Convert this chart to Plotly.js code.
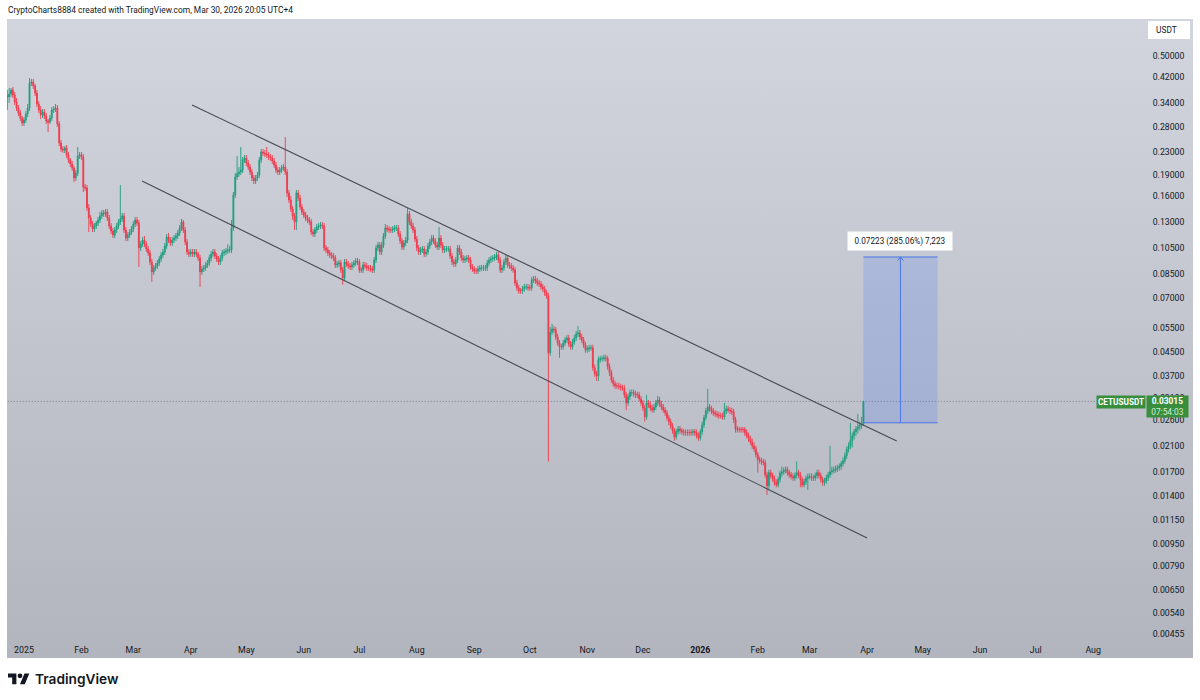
<!DOCTYPE html>
<html><head><meta charset="utf-8">
<script src="https://cdn.plot.ly/plotly-3.0.1.min.js"></script>
<style>
html,body{margin:0;padding:0;background:#fff;width:1200px;height:700px;overflow:hidden}
#panel{position:absolute;left:7px;top:19px;width:1186px;height:639px;background:linear-gradient(180deg,#d2d5dd 0%,#b2b5be 100%)}
#chart{position:absolute;left:0;top:0;width:1200px;height:700px}
#logo{position:absolute;left:8px;top:670.6px}
</style></head><body>
<div id="panel"></div>
<div id="chart"></div>
<svg id="logo" width="21.6" height="16.8" viewBox="0 0 36 28"><path fill="#131722" d="M14 22H7V11H0V4h14v18zM28 22h-8l7.5-18h8L28 22z"/><circle fill="#131722" cx="20" cy="8" r="4"/></svg>
<script>
const firstDay='2024-12-23';
const firstOpen=.3612;
const closes=[
.3583,.3671,.3793,.3641,.3440,.3276,.3145,.3020,.2900,.2972,
.3120,.3276,.4015,.4048,.3918,.3701,.3385,.3223,.3095,.3171,
.3070,.2948,.2924,.3020,.3223,.3250,.3276,.2877,.2465,.2347,
.2328,.2367,.2236,.2147,.2078,.2012,.1855,.1931,.2218,.2236,
.2200,.1724,.1710,.1453,.1340,.1276,.1225,.1255,.1286,.1318,
.1362,.1395,.1384,.1407,.1340,.1255,.1205,.1167,.1215,.1255,
.1297,.1329,.1362,.1215,.1138,.1167,.1195,.1225,.1276,.1318,
.1286,.1050,.1084,.1120,.1084,.1041,.1008,.0937,.0864,.0892,
.0907,.0929,.0960,.0992,.1016,.1067,.1148,.1120,.1093,.1120,
.1138,.1157,.1186,.1235,.1297,.1215,.1102,.1016,.1000,.1016,
.1000,.1016,.1000,.0968,.0864,.0885,.0892,.0914,.0929,.0968,
.1000,.1016,.0984,.0960,.0937,.0968,.1008,.1016,.1024,.1033,
.1033,.1235,.1615,.1870,.1916,.1947,.1979,.2147,.2182,.2095,
.2028,.1947,.1855,.1810,.1855,.1900,.2147,.2291,.2272,.2254,
.2236,.2200,.2182,.2129,.2061,.1979,.1947,.1979,.2012,.2028,
.1947,.1642,.1551,.1441,.1362,.1297,.1642,.1576,.1465,.1407,
.1373,.1340,.1318,.1297,.1195,.1176,.1215,.1245,.1255,.1265,
.1255,.1050,.1033,.1008,.0992,.0984,.0968,.0914,.0922,.0929,
.0878,.0823,.0937,.0922,.0907,.0900,.0914,.0929,.0944,.0937,
.0878,.0878,.0914,.0907,.0892,.0892,.0885,.0878,.0952,.1050,
.1075,.1016,.1075,.1157,.1235,.1225,.1215,.1215,.1225,.1235,
.1235,.1176,.1111,.1058,.1093,.1120,.1384,.1297,.1255,.1215,
.1129,.1050,.1016,.1033,.1041,.1000,.1016,.1067,.1102,.1138,
.1111,.1075,.1058,.1138,.1075,.1033,.1041,.1041,.1041,.0984,
.0937,.0922,.0952,.1050,.1016,.0968,.0952,.0960,.0968,.0952,
.0900,.0885,.0871,.0871,.0885,.0892,.0892,.0892,.0892,.0929,
.0952,.0960,.0968,.0976,.0992,.0952,.0878,.0892,.0937,.0968,
.0914,.0907,.0892,.0878,.0790,.0759,.0741,.0741,.0753,.0765,
.0765,.0759,.0759,.0810,.0816,.0803,.0790,.0784,.0765,.0753,
.0729,.0711,.0448,.0530,.0543,.0539,.0509,.0485,.0470,.0470,
.0485,.0497,.0505,.0481,.0470,.0489,.0505,.0522,.0526,.0509,
.0497,.0478,.0459,.0462,.0466,.0466,.0397,.0378,.0371,.0423,
.0427,.0427,.0430,.0427,.0400,.0381,.0359,.0348,.0342,.0342,
.0340,.0337,.0337,.0318,.0298,.0313,.0324,.0324,.0321,.0318,
.0318,.0308,.0298,.0286,.0266,.0298,.0293,.0286,.0281,.0288,
.0298,.0305,.0295,.0288,.0281,.0275,.0264,.0256,.0247,.0238,
.0226,.0236,.0241,.0238,.0236,.0234,.0234,.0234,.0234,.0234,
.0236,.0234,.0228,.0224,.0236,.0249,.0264,.0279,.0288,.0284,
.0279,.0275,.0272,.0270,.0268,.0268,.0266,.0279,.0284,.0281,
.0279,.0277,.0260,.0241,.0240,.0240,.0240,.0240,.0234,.0228,
.0223,.0217,.0210,.0205,.0196,.0188,.0186,.0185,.0183,.0166,
.0152,.0169,.0165,.0161,.0156,.0153,.0160,.0168,.0170,.01717,
.0173,.0169,.0166,.01635,.0162,.0165,.0169,.0166,.0160,.0153,
.0157,.0161,.01635,.01635,.0162,.0162,.0165,.0169,.0165,.0160,
.0156,.0158,.0162,.0166,.0170,.01717,.0173,.01745,.0176,.01775,
.0182,.0186,.0194,.0204,.0210,.0219,.0228,.0236,.0241,.0245,.0249,.0251,.03015];
const highs=[
.3793,.3855,.3855,.3886,.3731,.3554,.3357,.3223,.3070,.3045,
.3197,.3385,.4180,.4150,.4150,.3983,.3793,.3468,.3330,.3250,
.3250,.3145,.2996,.3095,.3303,.3330,.3385,.3357,.2948,.2526,
.2405,.2405,.2425,.2291,.2182,.2129,.2045,.1979,.2386,.2291,
.2291,.2254,.1766,.1752,.1501,.1373,.1307,.1286,.1307,.1351,
.1407,.1430,.1430,.1441,.1441,.1373,.1286,.1235,.1245,.1286,
.1329,.1752,.1395,.1395,.1245,.1195,.1225,.1255,.1307,.1351,
.1351,.1318,.1111,.1148,.1157,.1111,.1067,.1033,.0960,.0914,
.0929,.0952,.0984,.1016,.1041,.1093,.1176,.1186,.1148,.1148,
.1167,.1186,.1215,.1265,.1329,.1318,.1245,.1129,.1041,.1041,
.1041,.1041,.1041,.1016,.0992,.0907,.0914,.0937,.0952,.0992,
.1024,.1041,.1041,.1008,.0984,.0992,.1033,.1041,.1050,.1084,
.1067,.1318,.1655,.1931,.2218,.2028,.2386,.2200,.2236,.2236,
.2147,.2078,.1995,.1900,.1900,.1947,.2200,.2347,.2347,.2328,
.2386,.2291,.2254,.2236,.2182,.2112,.2028,.2028,.2061,.2078,
.2588,.1995,.1682,.1602,.1477,.1395,.1682,.1682,.1615,.1501,
.1441,.1407,.1373,.1351,.1329,.1225,.1245,.1276,.1286,.1297,
.1297,.1286,.1075,.1058,.1033,.1016,.1008,.0992,.0944,.0952,
.0952,.0900,.0960,.0960,.0944,.0929,.0937,.0952,.0968,.0968,
.0960,.0900,.0937,.0937,.0929,.0914,.0914,.0907,.0976,.1075,
.1102,.1102,.1102,.1186,.1276,.1265,.1255,.1245,.1255,.1265,
.1265,.1265,.1205,.1138,.1120,.1148,.1453,.1418,.1329,.1286,
.1245,.1157,.1075,.1058,.1067,.1067,.1041,.1093,.1129,.1167,
.1167,.1138,.1102,.1245,.1167,.1102,.1067,.1067,.1067,.1067,
.1008,.0960,.0976,.1075,.1075,.1041,.0992,.0984,.0992,.0992,
.0976,.0922,.0907,.0892,.0907,.0914,.0914,.0914,.0914,.0952,
.0976,.0984,.0992,.1000,.1016,.1016,.0976,.0914,.0960,.0992,
.0992,.0937,.0929,.0914,.0900,.0810,.0778,.0759,.0771,.0784,
.0784,.0784,.0778,.0830,.0836,.0836,.0823,.0810,.0803,.0784,
.0771,.0747,.0729,.0552,.0566,.0557,.0552,.0522,.0497,.0481,
.0497,.0509,.0518,.0518,.0493,.0501,.0518,.0535,.0557,.0539,
.0522,.0509,.0489,.0474,.0478,.0478,.0478,.0407,.0387,.0434,
.0437,.0437,.0441,.0441,.0437,.0410,.0390,.0368,.0356,.0351,
.0351,.0348,.0345,.0345,.0326,.0321,.0332,.0332,.0332,.0329,
.0326,.0326,.0315,.0305,.0293,.0318,.0305,.03015,.0293,.0295,
.0305,.0315,.0313,.0303,.0295,.0288,.0281,.0270,.0262,.0253,
.0243,.0241,.0247,.0247,.0243,.0241,.0240,.0240,.0240,.0240,
.0241,.0241,.0240,.0234,.0241,.0256,.0270,.0286,.0334,.0295,
.0291,.0286,.0281,.0279,.0277,.0275,.0275,.0298,.0291,.0291,
.0288,.0286,.0284,.0266,.0247,.0245,.0245,.0245,.0245,.0240,
.0234,.0228,.0223,.0216,.0210,.0200,.01925,.0191,.0189,.0188,
.0170,.0173,.0173,.0169,.0165,.0160,.01635,.01717,.01775,.0176,
.01775,.01775,.0173,.0170,.0168,.0169,.0185,.0173,.0170,.01635,
.0161,.0165,.0168,.0168,.0168,.0166,.0169,.0173,.0173,.0169,
.01635,.0162,.0166,.0170,.0210,.01775,.01775,.0179,.0180,.0182,
.0186,.0191,.0199,.0209,.0216,.0253,.0234,.0241,.0247,.0272,.0256,.0266,.0303];
const lows=[
.3223,.3412,.3583,.3554,.3357,.3197,.3070,.2948,.2830,.2830,
.2900,.3045,.3197,.3918,.3824,.3612,.3303,.3145,.2996,.3020,
.2996,.2877,.2696,.2877,.2948,.3145,.3171,.2807,.2405,.2291,
.2272,.2272,.2182,.2095,.2028,.1963,.1795,.1810,.1885,.2164,
.2147,.1655,.1669,.1418,.1195,.1245,.1195,.1195,.1225,.1255,
.1286,.1329,.1351,.1351,.1307,.1225,.1176,.1138,.1138,.1186,
.1225,.1265,.1297,.1186,.1111,.1111,.1138,.1167,.1195,.1245,
.1255,.0900,.1024,.1058,.1058,.1016,.0984,.0914,.0797,.0843,
.0871,.0885,.0907,.0937,.0968,.0992,.1041,.1093,.1067,.1067,
.1093,.1111,.1129,.1157,.1205,.1186,.1075,.0992,.0976,.0976,
.0976,.0976,.0976,.0944,.0765,.0843,.0864,.0871,.0892,.0907,
.0944,.0976,.0960,.0937,.0914,.0914,.0944,.0984,.0992,.1000,
.1008,.1008,.1205,.1576,.1825,.1870,.1900,.1931,.2095,.2045,
.1979,.1900,.1810,.1766,.1766,.1810,.1855,.2095,.2218,.2200,
.2182,.2147,.2129,.2078,.2012,.1931,.1900,.1900,.1931,.1963,
.1900,.1589,.1514,.1407,.1318,.1215,.1215,.1538,.1430,.1373,
.1340,.1307,.1286,.1265,.1167,.1148,.1148,.1186,.1215,.1225,
.1225,.1024,.1008,.0984,.0968,.0960,.0944,.0892,.0892,.0900,
.0857,.0778,.0803,.0900,.0885,.0878,.0878,.0892,.0907,.0914,
.0857,.0857,.0857,.0885,.0871,.0871,.0864,.0857,.0857,.0929,
.1024,.0992,.0992,.1050,.1129,.1195,.1186,.1186,.1186,.1195,
.1205,.1148,.1084,.1033,.1033,.1067,.1093,.1265,.1225,.1186,
.1102,.1024,.0992,.0992,.1008,.0976,.0976,.0992,.1041,.1075,
.1084,.1050,.1033,.1033,.1050,.1008,.1008,.1016,.1016,.0960,
.0914,.0900,.0900,.0929,.0992,.0944,.0929,.0929,.0937,.0929,
.0878,.0864,.0850,.0850,.0850,.0864,.0871,.0871,.0871,.0871,
.0907,.0929,.0937,.0944,.0952,.0929,.0857,.0857,.0871,.0914,
.0892,.0885,.0871,.0857,.0771,.0741,.0723,.0723,.0723,.0735,
.0747,.0741,.0741,.0741,.0790,.0784,.0771,.0765,.0747,.0735,
.0711,.0694,.0185,.0437,.0518,.0526,.0497,.0474,.0430,.0459,
.0459,.0474,.0485,.0470,.0459,.0459,.0478,.0493,.0509,.0497,
.0485,.0466,.0448,.0448,.0451,.0455,.0387,.0368,.0356,.0356,
.0413,.0417,.0417,.0417,.0390,.0371,.0351,.0340,.0334,.0334,
.0332,.0329,.0329,.0310,.0281,.0291,.0305,.0315,.0313,.0310,
.0310,.03015,.0291,.0279,.0256,.0260,.0286,.0279,.0275,.0275,
.0281,.0291,.0288,.0281,.0275,.0268,.0258,.0249,.0241,.0232,
.0219,.0221,.0230,.0232,.0230,.0228,.0228,.0228,.0228,.0228,
.0228,.0228,.0223,.0219,.0219,.0230,.0243,.0258,.0272,.0277,
.0272,.0268,.0266,.0264,.0262,.0262,.0260,.0260,.0272,.0275,
.0272,.0270,.0253,.0234,.0234,.0234,.0234,.0234,.0228,.0223,
.0217,.0212,.0205,.0200,.0191,.0169,.0182,.0180,.0179,.0162,
.0141,.0148,.0161,.0157,.0152,.0150,.0150,.0156,.01635,.0166,
.0168,.0165,.0162,.0160,.0158,.0158,.0161,.0162,.0150,.0150,
.0150,.0153,.0147,.0160,.0158,.0158,.0158,.0161,.0161,.0156,
.0152,.0152,.01545,.0158,.0162,.0166,.0168,.0169,.0170,.01717,
.0173,.01775,.0182,.0189,.0199,.0205,.0207,.0221,.0228,.0232,.0238,.0241,.0247];

const priceTicks=[.5,.42,.34,.28,.23,.19,.16,.13,.105,.085,.07,.055,.045,.037,.031,.026,.021,.017,.014,.0115,.0095,.0079,.0065,.0054,.00455];
const priceLabels=['0.50000','0.42000','0.34000','0.28000','0.23000','0.19000','0.16000','0.13000','0.10500','0.08500','0.07000','0.05500','0.04500','0.03700','0.03100','0.02600','0.02100','0.01700','0.01400','0.01150','0.00950','0.00790','0.00650','0.00540','0.00455'];
const monthTicks=['2025-01-01','2025-02-01','2025-03-01','2025-04-01','2025-05-01','2025-06-01','2025-07-01','2025-08-01','2025-09-01','2025-10-01','2025-11-01','2025-12-01','2026-01-01','2026-02-01','2026-03-01','2026-04-01','2026-05-01','2026-06-01','2026-07-01','2026-08-01'];
const monthLabels=['2025','Feb','Mar','Apr','May','Jun','Jul','Aug','Sep','Oct','Nov','Dec','<b>2026</b>','Feb','Mar','Apr','May','Jun','Jul','Aug'];

const upperChannelDates=['2025-04-01 17:00','2026-04-17 00:00'];
const upperChannelPrices=[.3357,.02185];
const lowerChannelDates=['2025-03-05 17:00','2026-04-01 00:00'];
const lowerChannelPrices=[.1810,.00993];
const lastPrice=.03015;
const lastPriceDates=['2024-12-20','2026-08-02'];
const targetDates=['2026-03-30','2026-05-09'];
const targetLow=.02534;
const targetHigh=.09757;
const arrowDate='2026-04-19';
const arrowHeadDates=['2026-04-17 10:00','2026-04-19','2026-04-20 14:00'];
const arrowHeadPrices=[.0948,.09757,.0948];

const DAY=86400000;
const dayStart=Date.parse(firstDay+'T00:00:00Z');
const days=closes.map((_,i)=>new Date(dayStart+i*DAY).toISOString().slice(0,10));
const opens=closes.map((_,i)=>i?closes[i-1]:firstOpen);

const ink='#131722';
const uiFont='Roboto, Arial, sans-serif';
const blue='#4a76e8';
const seg=(x,y,color,extra)=>Object.assign({type:'scatter',mode:'lines',x,y,hoverinfo:'skip',showlegend:false,line:{color,width:1}},extra||{});

const traces=[
 seg(lastPriceDates,[lastPrice,lastPrice],'#6f727d',{line:{color:'rgba(80,83,95,0.75)',width:0.8,dash:'1px,2px'}}),
 seg([targetDates[0],targetDates[1],targetDates[1],targetDates[0],targetDates[0]],[targetLow,targetLow,targetHigh,targetHigh,targetLow],blue,{fill:'toself',fillcolor:'rgba(41,98,255,0.17)',line:{width:0,color:blue}}),
 seg(targetDates,[targetLow,targetLow],blue),
 seg(targetDates,[targetHigh,targetHigh],blue),
 seg([arrowDate,arrowDate],[targetLow,targetHigh],blue),
 seg(arrowHeadDates,arrowHeadPrices,blue),
 {type:'candlestick',x:days,open:opens,high:highs,low:lows,close:closes,showlegend:false,hoverinfo:'skip',
  increasing:{line:{color:'#1f9c7e',width:0.9},fillcolor:'#1f9c7e'},
  decreasing:{line:{color:'#ef3a4d',width:0.9},fillcolor:'#ef3a4d'}},
 seg(upperChannelDates,upperChannelPrices,'#454953',{line:{color:'#454953',width:1.1}}),
 seg(lowerChannelDates,lowerChannelPrices,'#454953',{line:{color:'#454953',width:1.1}})
];

const px=x=>(x-7)/1136, py=y=>1-(y-19)/619;
const note=(x,y,text,o)=>Object.assign({xref:'paper',yref:'paper',x:px(x),y:py(y),text,showarrow:false,xanchor:'left',yanchor:'middle',font:{family:uiFont,size:8,color:ink},borderpad:0},o||{});
const annotations=[
 note(7,10,'CryptoCharts8884 created with TradingView.com, Mar 30, 2026 20:05 UTC+4',{font:{family:uiFont,size:8.4,color:ink}}),
 note(1155,30,'USDT',{font:{family:uiFont,size:8.4,color:ink}}),
 note(900,241,'0.07223 (285.06%) 7,223',{xanchor:'center',width:104,height:18,bgcolor:'#ffffff',align:'center',font:{family:uiFont,size:8.2,color:ink}}),
 note(1121,402,'<b>CETUSUSDT</b>',{xanchor:'center',width:48,height:12,bgcolor:'#388e3c',align:'center',font:{family:uiFont,size:8.2,color:'#ffffff'}}),
 note(1167.5,406.5,'<b>0.03015</b><br><span style="color:#d3ecd4">07:54:03</span>',{xanchor:'center',width:41,height:21,bgcolor:'#388e3c',align:'center',font:{family:uiFont,size:8.4,color:'#ffffff'}}),
 note(33.5,678.5,'TradingView',{font:{family:'Inter, sans-serif',size:13.7,color:ink,weight:600}})
];
const shapes=[{type:'rect',xref:'paper',yref:'paper',layer:'below',x0:px(1148),x1:px(1190),y0:py(39),y1:py(21),fillcolor:'#ffffff',line:{width:0}}];

const layout={
 width:1200,height:700,margin:{l:7,r:57,t:19,b:62,pad:0},
 paper_bgcolor:'rgba(0,0,0,0)',plot_bgcolor:'rgba(0,0,0,0)',
 showlegend:false,hovermode:false,dragmode:false,
 font:{family:uiFont,size:8,color:ink},
 annotations,shapes,
 xaxis:{type:'date',range:['2024-12-22 20:00','2026-08-27 21:36'],rangeslider:{visible:false},tickmode:'array',tickvals:monthTicks,ticktext:monthLabels,
  showgrid:false,zeroline:false,showline:false,ticks:'outside',ticklen:3,tickcolor:'rgba(0,0,0,0)',tickangle:0,tickfont:{family:uiFont,size:8.8,color:ink},automargin:false},
 yaxis:{type:'log',side:'right',range:[-2.3561,-0.17038],tickmode:'array',tickvals:priceTicks,ticktext:priceLabels,
  showgrid:false,zeroline:false,showline:false,ticks:'outside',ticklen:7,tickcolor:'rgba(0,0,0,0)',tickfont:{family:uiFont,size:8.7,color:ink},automargin:false}
};
Plotly.newPlot('chart',traces,layout,{staticPlot:true,displayModeBar:false});
</script>
</body></html>
